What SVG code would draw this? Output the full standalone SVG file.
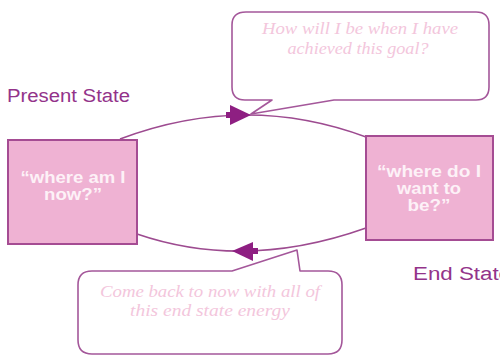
<svg xmlns="http://www.w3.org/2000/svg" width="500" height="356" viewBox="0 0 500 356">
<defs>
<style>
.box{fill:#efb2d3;stroke:#a54c93;stroke-width:2}
.boxtxt{font-family:"Liberation Sans",Arial,sans-serif;font-weight:bold;font-size:16px;fill:#fdf1f7;text-anchor:middle}
.label{font-family:"Liberation Sans",Arial,sans-serif;font-size:18px;fill:#93338a}
.callout{fill:#ffffff;stroke:#a4579a;stroke-width:1.6;stroke-linejoin:round}
.ctxt{font-family:"Liberation Serif","Times New Roman",serif;font-style:italic;font-size:16px;fill:#f3c6dc;text-anchor:middle}
.curve{fill:none;stroke:#9d4b90;stroke-width:1.6}
.head{fill:#8e1f82}
</style>
</defs>
<rect width="500" height="356" fill="#ffffff"/>
<g id="present-label"><text class="label" x="7" y="102" textLength="123" lengthAdjust="spacingAndGlyphs">Present State</text></g>
<g id="end-label"><text class="label" x="413" y="280" textLength="98" lengthAdjust="spacingAndGlyphs">End State</text></g>
<g id="connectors">
<path class="curve" d="M120,139 Q245,92 366,137"/>
<path class="curve" d="M137,234 Q245,271 366,228"/>
<path class="head" d="M230,105 L251,115 L230,125 Z"/>
<rect class="head" x="226" y="112" width="5" height="6"/>
<path class="head" d="M253,242 L232,251 L253,261 Z"/>
<rect class="head" x="252" y="248" width="6" height="6"/>
</g>
<g id="top-callout">
<path class="callout" d="M246,12 H476 Q489,12 489,25 V87 Q489,100 476,100 H334 L251,114 L272,100 H245 Q232,100 232,87 V25 Q232,12 246,12 Z"/>
<text class="ctxt" x="360" y="34" textLength="196" lengthAdjust="spacingAndGlyphs">How will I be when I have</text>
<text class="ctxt" x="358" y="54" textLength="141" lengthAdjust="spacingAndGlyphs">achieved this goal?</text>
</g>
<g id="bottom-callout">
<path class="callout" d="M92,271 H232 L297,250 L300,271 H328 Q342,271 342,285 V340 Q342,354 328,354 H92 Q78,354 78,340 V285 Q78,271 92,271 Z"/>
<text class="ctxt" x="210" y="297" textLength="220" lengthAdjust="spacingAndGlyphs">Come back to now with all of</text>
<text class="ctxt" x="210" y="316" textLength="160" lengthAdjust="spacingAndGlyphs">this end state energy</text>
</g>
<g id="present-state">
<rect class="box" x="8" y="140" width="129" height="104"/>
<text class="boxtxt" x="73" y="183" textLength="105" lengthAdjust="spacingAndGlyphs">“where am I</text>
<text class="boxtxt" x="73" y="200" textLength="58" lengthAdjust="spacingAndGlyphs">now?”</text>
</g>
<g id="end-state">
<rect class="box" x="366" y="136" width="127" height="104"/>
<text class="boxtxt" x="429" y="177" textLength="104" lengthAdjust="spacingAndGlyphs">“where do I</text>
<text class="boxtxt" x="429" y="194" textLength="64" lengthAdjust="spacingAndGlyphs">want to</text>
<text class="boxtxt" x="429" y="211" textLength="43" lengthAdjust="spacingAndGlyphs">be?”</text>
</g>
</svg>
